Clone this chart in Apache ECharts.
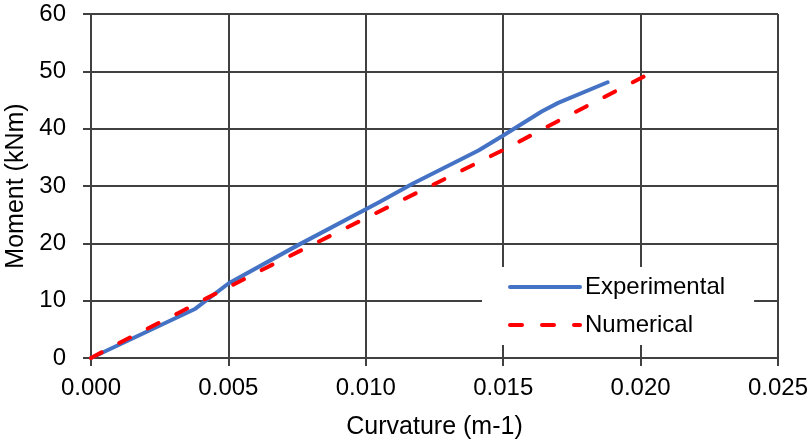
<!DOCTYPE html>
<html>
<head>
<meta charset="utf-8">
<script src="https://cdn.jsdelivr.net/npm/echarts@6/dist/echarts.min.js"></script>
<style>
  html, body { margin: 0; padding: 0; background: #fff; }
  #chart { width: 812px; height: 445px; }
</style>
</head>
<body>
<div id="chart"></div>
<script>
// curvature (m-1) / moment (kNm)
const expCurv = [0, 0.0038, 0.0050, 0.0075, 0.0105, 0.0117, 0.0141, 0.0150, 0.0164, 0.0170, 0.0188];
const expMoment = [0, 8.6, 13.0, 19.6, 27.2, 30.4, 36.2, 38.8, 43.0, 44.5, 48.1];
const numCurv = [0, 0.0011, 0.0032, 0.0042, 0.0064, 0.0100, 0.0153, 0.0165, 0.0206];
const numMoment = [0, 2.8, 7.9, 10.4, 15.8, 24.4, 37.0, 40.1, 50.3];

const gridColor = "#404040";
const font = "'Liberation Sans', Arial, sans-serif";

let mychart = echarts.init(document.getElementById("chart"));
mychart.setOption({
  animation: false,
  textStyle: { fontFamily: font },
  grid: { left: 91, right: 34, top: 14, bottom: 87, outerBoundsMode: "none", containLabel: false },
  legend: {
    orient: "vertical",
    left: 482,
    top: 267,
    backgroundColor: "#fff",
    padding: [8, 29, 8, 26],
    itemWidth: 70,
    itemHeight: 24,
    itemGap: 14,
    itemStyle: { opacity: 0 },
    lineStyle: { width: 4 },
    textStyle: { fontSize: 24, color: "#000", fontFamily: font },
    data: ["Experimental", "Numerical"]
  },
  xAxis: {
    type: "value",
    min: 0,
    max: 0.025,
    interval: 0.005,
    name: "Curvature (m-1)",
    nameLocation: "middle",
    nameGap: 57,
    nameTextStyle: { fontSize: 25, color: "#000", fontFamily: font },
    axisLine: { lineStyle: { color: gridColor, width: 2 } },
    axisTick: { show: true, length: 8, lineStyle: { color: gridColor, width: 2 } },
    axisLabel: {
      fontSize: 24,
      color: "#000",
      margin: 18,
      formatter: v => v.toFixed(3)
    },
    splitLine: { show: true, lineStyle: { color: gridColor, width: 2 } }
  },
  yAxis: {
    type: "value",
    min: 0,
    max: 60,
    interval: 10,
    name: "Moment (kNm)",
    nameLocation: "middle",
    nameGap: 48,
    nameTextStyle: { fontSize: 25, color: "#000", fontFamily: font },
    axisLine: { show: true, lineStyle: { color: gridColor, width: 2 } },
    axisTick: { show: true, length: 8, lineStyle: { color: gridColor, width: 2 } },
    axisLabel: { fontSize: 24, color: "#000", margin: 25 },
    splitLine: { show: true, lineStyle: { color: gridColor, width: 2 } }
  },
  series: [
    {
      name: "Experimental",
      type: "line",
      symbol: "none",
      color: "#4472C4",
      lineStyle: { width: 4, color: "#4472C4", cap: "round", join: "round" },
      data: expCurv.map((x, i) => [x, expMoment[i]])
    },
    {
      name: "Numerical",
      type: "line",
      symbol: "none",
      color: "#FF0000",
      lineStyle: { width: 4, color: "#FF0000", type: [12, 20], cap: "round", join: "round" },
      data: numCurv.map((x, i) => [x, numMoment[i]])
    }
  ]
});
window.addEventListener("resize", () => {
  mychart.resize();
});
</script>
</body>
</html>
